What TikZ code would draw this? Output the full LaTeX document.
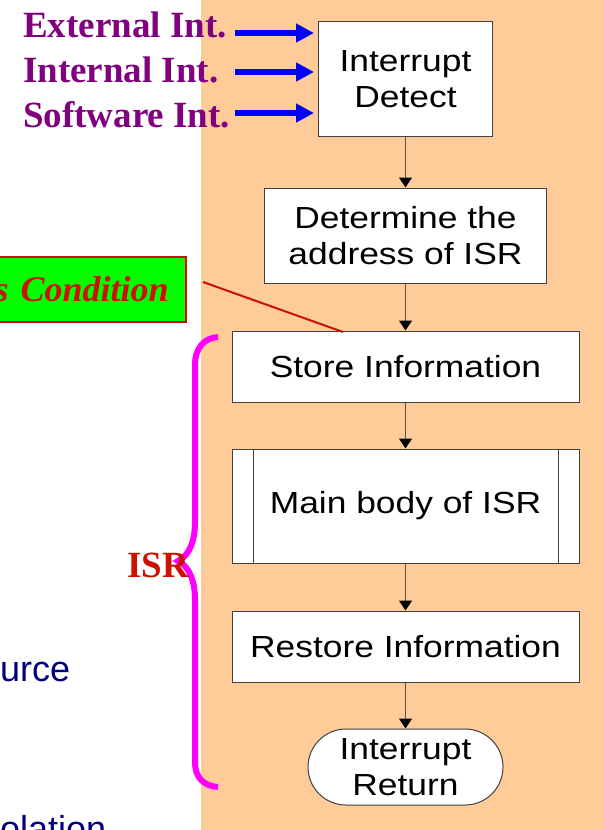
\documentclass[tikz,border=0pt]{standalone}
\usepackage{fontspec}
\setmainfont{Liberation Serif}
\newfontfamily\boxfont[FakeStretch=1.16]{Liberation Sans}
\newfontfamily\slidefont{Liberation Sans}
\usetikzlibrary{arrows.meta,shapes.misc}
\definecolor{peach}{RGB}{255,204,153}
\definecolor{intpurple}{RGB}{128,0,128}
\definecolor{isrred}{RGB}{204,17,0}
\definecolor{slidenavy}{RGB}{0,0,128}
\definecolor{linegray}{RGB}{95,85,75}
\definecolor{bracepink}{RGB}{255,0,255}
\definecolor{condgreen}{RGB}{0,255,0}

\begin{document}
\begin{tikzpicture}[x=1bp,y=-1bp,
  flowbox/.style={draw=black!75,line width=1bp,fill=white,align=center,inner sep=0pt,
    font=\boxfont\fontsize{30.5bp}{35.5bp}\selectfont},
  flowarrow/.style={draw=linegray,line width=1.3bp,-{Triangle[black,length=10bp,width=13bp]}},
  intlabel/.style={anchor=base west,inner sep=0pt,text=intpurple,
    font=\bfseries\fontsize{37bp}{40bp}\selectfont},
  intarrow/.style={draw=blue,line width=5.5bp,shorten >=4bp,-{Triangle[length=18bp,width=18bp]}},
  slidetext/.style={anchor=base west,inner sep=0pt,text=slidenavy,
    font=\slidefont\fontsize{36bp}{40bp}\selectfont}]
  \useasboundingbox (0,0) rectangle (603,830);
  \clip (0,0) rectangle (603,830);
  % peach panel behind the flowchart
  \fill[peach] (201,0) rectangle (603,830);
  % cut-off slide text on the left
  \node[slidetext] (src) at (0,681) {urce};
  \node[slidetext] (iso) at (0,841) {olation};
  % flowchart
  \node[flowbox,minimum width=174bp,minimum height=114bp] (detect) at (405.5,79) {Interrupt\\Detect};
  \node[flowbox,minimum width=282bp,minimum height=95bp] (addr) at (405.5,235.5) {Determine the\\address of ISR};
  \node[flowbox,minimum width=347bp,minimum height=71bp] (store) at (405.5,366.5) {Store Information};
  \node[flowbox,minimum width=347bp,minimum height=114bp] (body) at (405.5,506) {Main body of ISR};
  \draw[draw=black!75,line width=1bp] ([xshift=22bp]body.north west) -- ([xshift=22bp]body.south west);
  \draw[draw=black!75,line width=1bp] ([xshift=-21bp]body.north east) -- ([xshift=-21bp]body.south east);
  \node[flowbox,minimum width=347bp,minimum height=71bp] (restore) at (405.5,646.5) {Restore Information};
  \node[flowbox,rounded rectangle,minimum width=195bp,minimum height=76bp] (ret) at (405.5,767) {Interrupt\\Return};
  \draw[flowarrow] (detect.south) -- (addr.north);
  \draw[flowarrow] (addr.south) -- (store.north);
  \draw[flowarrow] (store.south) -- (body.north);
  \draw[flowarrow] (body.south) -- (restore.north);
  \draw[flowarrow] (restore.south) -- (ret.north);
  % interrupt sources
  \node[intlabel] (ext) at (23,37) {External Int.};
  \node[intlabel] (int) at (23,82) {Internal Int.};
  \node[intlabel] (soft) at (23,127) {Software Int.};
  \coordinate (e1) at (235,33);
  \coordinate (e2) at (235,72);
  \coordinate (e3) at (235,113);
  \draw[intarrow] (e1) -- (e1 -| detect.west);
  \draw[intarrow] (e2) -- (e2 -| detect.west);
  \draw[intarrow] (e3) -- (e3 -| detect.west);
  % condition box and its pointer
  \node[draw=isrred,line width=2.5bp,fill=condgreen,anchor=east,minimum height=65bp,inner xsep=17bp,
    text width=200bp,align=right,text=isrred,font=\bfseries\itshape\fontsize{36bp}{40bp}\selectfont]
    (cond) at (187,289.5) {s Condition};
  \coordinate (p1) at (203,282);
  \coordinate (p2) at (343,332);
  \draw[isrred,line width=2bp] (p1) -- (p2);
  % ISR brace
  \draw[bracepink,line width=6bp] (218,337) .. controls (204,338) and (195,348) .. (195,365)
    -- (195,522) .. controls (195,540) and (190,555) .. (178,561)
    .. controls (190,567) and (195,582) .. (195,600)
    -- (195,762) .. controls (195,778) and (204,786) .. (218,787);
  \node[anchor=base,inner sep=0pt,text=isrred,font=\bfseries\fontsize{37bp}{40bp}\selectfont] (isr) at (158,577) {ISR};
\end{tikzpicture}
\end{document}
